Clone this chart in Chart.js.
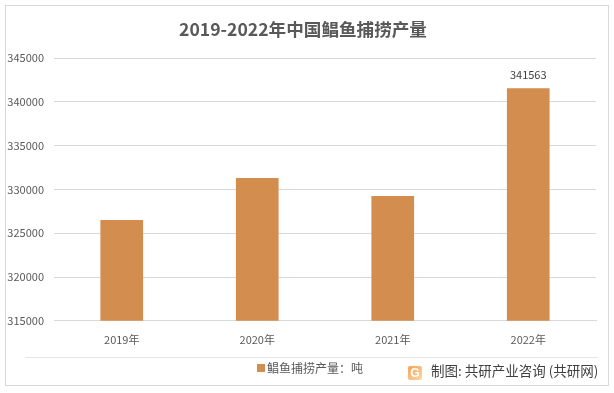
<!DOCTYPE html>
<html>
<head>
<meta charset="utf-8">
<script src="https://cdn.jsdelivr.net/npm/chart.js@4"></script>
<style>
    html, body { margin: 0; padding: 0; background: #fff; }
    #wrap { position: relative; width: 614px; height: 393px; overflow: hidden; }
    #frame { position: absolute; left: 5px; top: 5px; width: 604px; height: 381px; border: 1px solid #d9d9d9; box-sizing: border-box; }
    #rule { position: absolute; left: 25px; top: 357px; width: 573px; height: 1px; background: #e6e6e6; }
    #logo { position: absolute; left: 408px; top: 366px; width: 14px; height: 14px; border-radius: 2px; background: linear-gradient(135deg, #f7a25c, #fbd9a0); color: #fff; font: bold 12px/14px "Liberation Sans", sans-serif; text-align: center; }
    #credit { position: absolute; left: 431px; top: 360px; font: 13.5px/20px "Noto Sans CJK SC", sans-serif; color: #404040; white-space: nowrap; }
    canvas { position: absolute; left: 0; top: 0; }
</style>
</head>
<body>
<div id="wrap">
    <canvas id="chart" width="614" height="393"></canvas>
    <div id="frame"></div>
    <div id="rule"></div>
    <div id="logo">G</div>
    <div id="credit">制图: 共研产业咨询 (共研网)</div>
</div>
<script>
    const titleText = '2019-2022年中国鲳鱼捕捞产量';
    const seriesName = '鲳鱼捕捞产量：吨';
    const categories = ['2019年', '2020年', '2021年', '2022年'];
    const values = [326520, 331300, 329260, 341563];
    const labelled = [false, false, false, true];
    const yMin = 315000;
    const yMax = 345000;
    const yStep = 5000;

    const FONT = '"Noto Sans CJK SC", "Noto Sans", sans-serif';
    const BAR_COLOR = '#d28d4f';

    // legend swatch sits closer to its text than the library's fixed gap,
    // so the marker is an image wider than the box with the square on its right
    const swatch = document.createElement('canvas');
    swatch.width = 16;
    swatch.height = 8;
    const swatchCtx = swatch.getContext('2d');
    swatchCtx.fillStyle = BAR_COLOR;
    swatchCtx.fillRect(8, 0, 8, 8);

    // only the last bar carries a value label in the original
    const barLabels = {
        id: 'barLabels',
        afterLayout(chart) {
            chart.titleBlock.left += 2;
            chart.titleBlock.right += 2;
            chart.legend.left += 7;
            chart.legend.right += 7;
        },
        afterDatasetsDraw(chart) {
            const ctx = chart.ctx;
            const bars = chart.getDatasetMeta(0).data;
            ctx.save();
            ctx.font = '11px ' + FONT;
            ctx.fillStyle = '#404040';
            ctx.textAlign = 'center';
            ctx.textBaseline = 'bottom';
            bars.forEach((bar, i) => {
                if (labelled[i]) ctx.fillText(values[i], bar.x, bar.y - 8);
            });
            ctx.restore();
        }
    };

    new Chart(document.getElementById('chart'), {
        type: 'bar',
        data: {
            labels: categories,
            datasets: [{
                label: seriesName,
                data: values,
                backgroundColor: BAR_COLOR,
                borderWidth: 0,
                categoryPercentage: 1,
                barPercentage: 0.315
            }]
        },
        options: {
            responsive: false,
            animation: false,
            layout: { padding: { left: 6, right: 18, top: 0, bottom: 9 } },
            plugins: {
                title: {
                    display: true,
                    text: titleText,
                    color: '#595959',
                    font: { family: FONT, size: 17.6, weight: 'bold' },
                    padding: { top: 19, bottom: 18 }
                },
                legend: {
                    position: 'bottom',
                    labels: {
                        color: '#595959',
                        font: { family: FONT, size: 12 },
                        boxWidth: 8,
                        boxHeight: 8,
                        padding: 12,
                        usePointStyle: true,
                        generateLabels(chart) {
                            return [{ text: seriesName, pointStyle: swatch, fontColor: '#595959', datasetIndex: 0, lineWidth: 0 }];
                        }
                    }
                },
                tooltip: { enabled: false }
            },
            scales: {
                x: {
                    grid: { display: false },
                    border: { color: '#d9d9d9' },
                    ticks: { color: '#595959', font: { family: FONT, size: 11 }, padding: 4 }
                },
                y: {
                    min: yMin,
                    max: yMax,
                    afterFit(axis) { axis.width = 48; },
                    grid: { color: '#d9d9d9', drawTicks: false },
                    border: { display: false },
                    ticks: {
                        stepSize: yStep,
                        color: '#595959',
                        font: { family: FONT, size: 11 },
                        padding: 10,
                        callback: v => String(v)
                    }
                }
            }
        },
        plugins: [barLabels]
    });
</script>
</body>
</html>
